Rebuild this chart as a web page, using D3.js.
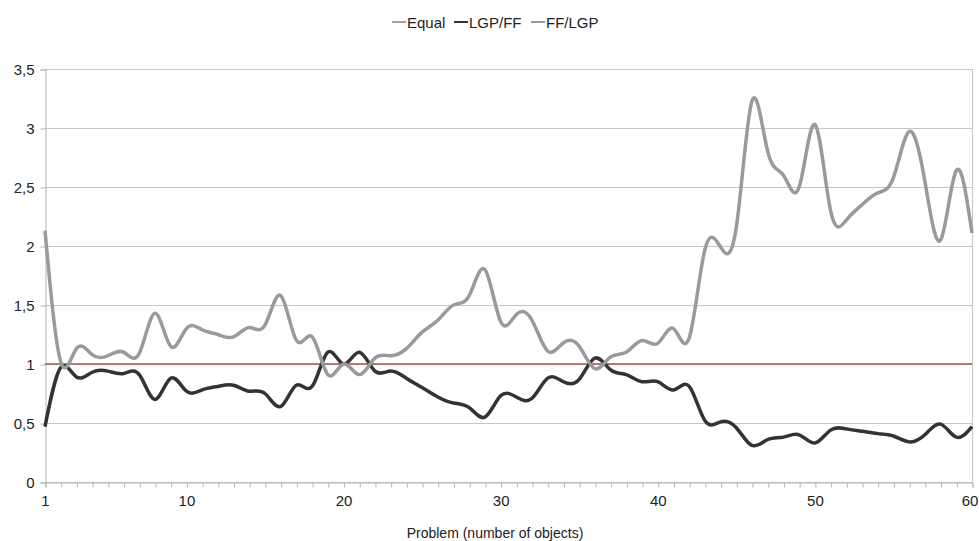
<!DOCTYPE html>
<html>
<head>
<meta charset="utf-8">
<script src="https://cdn.jsdelivr.net/npm/d3@7"></script>
<style>
  html, body { margin: 0; padding: 0; background: #fff; }
  svg { display: block; font-family: "Liberation Sans", Arial, Helvetica, sans-serif; }
</style>
</head>
<body>
<svg id="chart" width="979" height="541"></svg>
<script>
// ---- data ----
const problems = d3.range(1, 61);
const lgpFF = [0.47, 0.97, 0.89, 0.93, 0.94, 0.92, 0.91, 0.70, 0.88, 0.77,
               0.78, 0.81, 0.82, 0.77, 0.75, 0.64, 0.82, 0.81, 1.10, 1.00,
               1.10, 0.94, 0.94, 0.88, 0.80, 0.72, 0.67, 0.63, 0.55, 0.73,
               0.72, 0.71, 0.88, 0.85, 0.87, 1.05, 0.95, 0.91, 0.85, 0.85,
               0.78, 0.81, 0.52, 0.51, 0.46, 0.31, 0.36, 0.38, 0.40, 0.33,
               0.44, 0.45, 0.43, 0.41, 0.39, 0.34, 0.40, 0.49, 0.38, 0.47];
const ffLGP = [2.13, 1.02, 1.13, 1.08, 1.07, 1.10, 1.09, 1.43, 1.15, 1.30,
               1.29, 1.25, 1.23, 1.31, 1.33, 1.58, 1.20, 1.23, 0.91, 1.00,
               0.91, 1.05, 1.07, 1.13, 1.27, 1.37, 1.50, 1.58, 1.80, 1.36,
               1.42, 1.37, 1.11, 1.18, 1.15, 0.96, 1.06, 1.10, 1.20, 1.175,
               1.30, 1.22, 1.97, 1.99, 2.16, 3.23, 2.80, 2.60, 2.50, 3.03,
               2.30, 2.22, 2.35, 2.45, 2.58, 2.97, 2.55, 2.05, 2.64, 2.11];
const equal = problems.map(() => 1);
const seriesNames = ["Equal", "LGP/FF", "FF/LGP"];
const yTicks = [0, 0.5, 1, 1.5, 2, 2.5, 3, 3.5];
const xTickLabels = [1, 10, 20, 30, 40, 50, 60];
const xTitle = "Problem (number of objects)";

// ---- layout ----
const svg = d3.select("#chart");
const mLeft = 45, mRight = 972, mTop = 69, mBottom = 482;
const x = d3.scaleLinear().domain([1, 60]).range([mLeft, mRight]);
const y = d3.scaleLinear().domain([0, 3.5]).range([mBottom, mTop]);
const colors = { "Equal": "#a3544e", "LGP/FF": "#333333", "FF/LGP": "#9a9a9a" };
const fmt = v => String(v).replace(".", ",");

// gridlines
svg.append("g").selectAll("line").data(yTicks).join("line")
  .attr("x1", mLeft).attr("x2", mRight)
  .attr("y1", d => y(d) + 0.5).attr("y2", d => y(d) + 0.5)
  .attr("stroke", "#c6c6c6").attr("stroke-width", 1);

// right border
svg.append("line").attr("x1", mRight + 0.5).attr("x2", mRight + 0.5)
  .attr("y1", mTop).attr("y2", mBottom).attr("stroke", "#c6c6c6");

// y axis
const yAxis = d3.axisLeft(y).tickValues(yTicks).tickFormat(fmt).tickSize(5).tickPadding(6);
const gy = svg.append("g").attr("transform", `translate(${mLeft + 0.5},0.5)`).call(yAxis);
gy.select(".domain").attr("stroke", "#b5b5b5");
gy.selectAll(".tick line").attr("stroke", "#b5b5b5");
gy.selectAll("text").attr("font-size", 15).attr("fill", "#222");

// x axis minor ticks (every problem)
const xAxisMinor = d3.axisBottom(x).tickValues(problems).tickFormat("").tickSize(5);
const gx = svg.append("g").attr("transform", `translate(0.5,${mBottom + 0.5})`).call(xAxisMinor);
gx.select(".domain").attr("stroke", "#b5b5b5");
gx.selectAll(".tick line").attr("stroke", "#b5b5b5");
// x labels
const xAxisLabels = d3.axisBottom(x).tickValues(xTickLabels).tickFormat(d3.format("d")).tickSize(0).tickPadding(13);
const gxl = svg.append("g").attr("transform", `translate(0,${mBottom})`).call(xAxisLabels);
gxl.select(".domain").remove();
gxl.selectAll("text").attr("font-size", 15).attr("fill", "#222")
  .attr("dx", d => d === 60 ? -2.5 : 0);

// x title
svg.append("text").attr("x", 495).attr("y", 538)
  .attr("text-anchor", "middle").attr("font-size", 14).attr("fill", "#222").text(xTitle);

// lines
const line = d3.line().x((d, i) => x(problems[i])).y(d => y(d)).curve(d3.curveNatural);
svg.append("path").datum(equal).attr("d", d3.line().x((d, i) => x(problems[i])).y(d => y(d)))
  .attr("fill", "none").attr("stroke", colors["Equal"]).attr("stroke-width", 1.4);
svg.append("path").datum(lgpFF).attr("d", line)
  .attr("fill", "none").attr("stroke", colors["LGP/FF"]).attr("stroke-width", 3.5)
  .attr("stroke-linejoin", "round");
svg.append("path").datum(ffLGP).attr("d", line)
  .attr("fill", "none").attr("stroke", colors["FF/LGP"]).attr("stroke-width", 3.5)
  .attr("stroke-linejoin", "round");

// legend
const legendX = [392, 454, 531];
const lg = svg.append("g");
seriesNames.forEach((name, i) => {
  const g = lg.append("g").attr("transform", `translate(${legendX[i]},22)`);
  g.append("line").attr("x1", 0).attr("x2", 14).attr("y1", 0).attr("y2", 0)
    .attr("stroke", name === "Equal" ? "#b89a96" : colors[name]).attr("stroke-width", 2);
  g.append("text").attr("x", 15).attr("y", 5.5).attr("font-size", 15).attr("fill", "#222").text(name);
});
</script>
</body>
</html>
